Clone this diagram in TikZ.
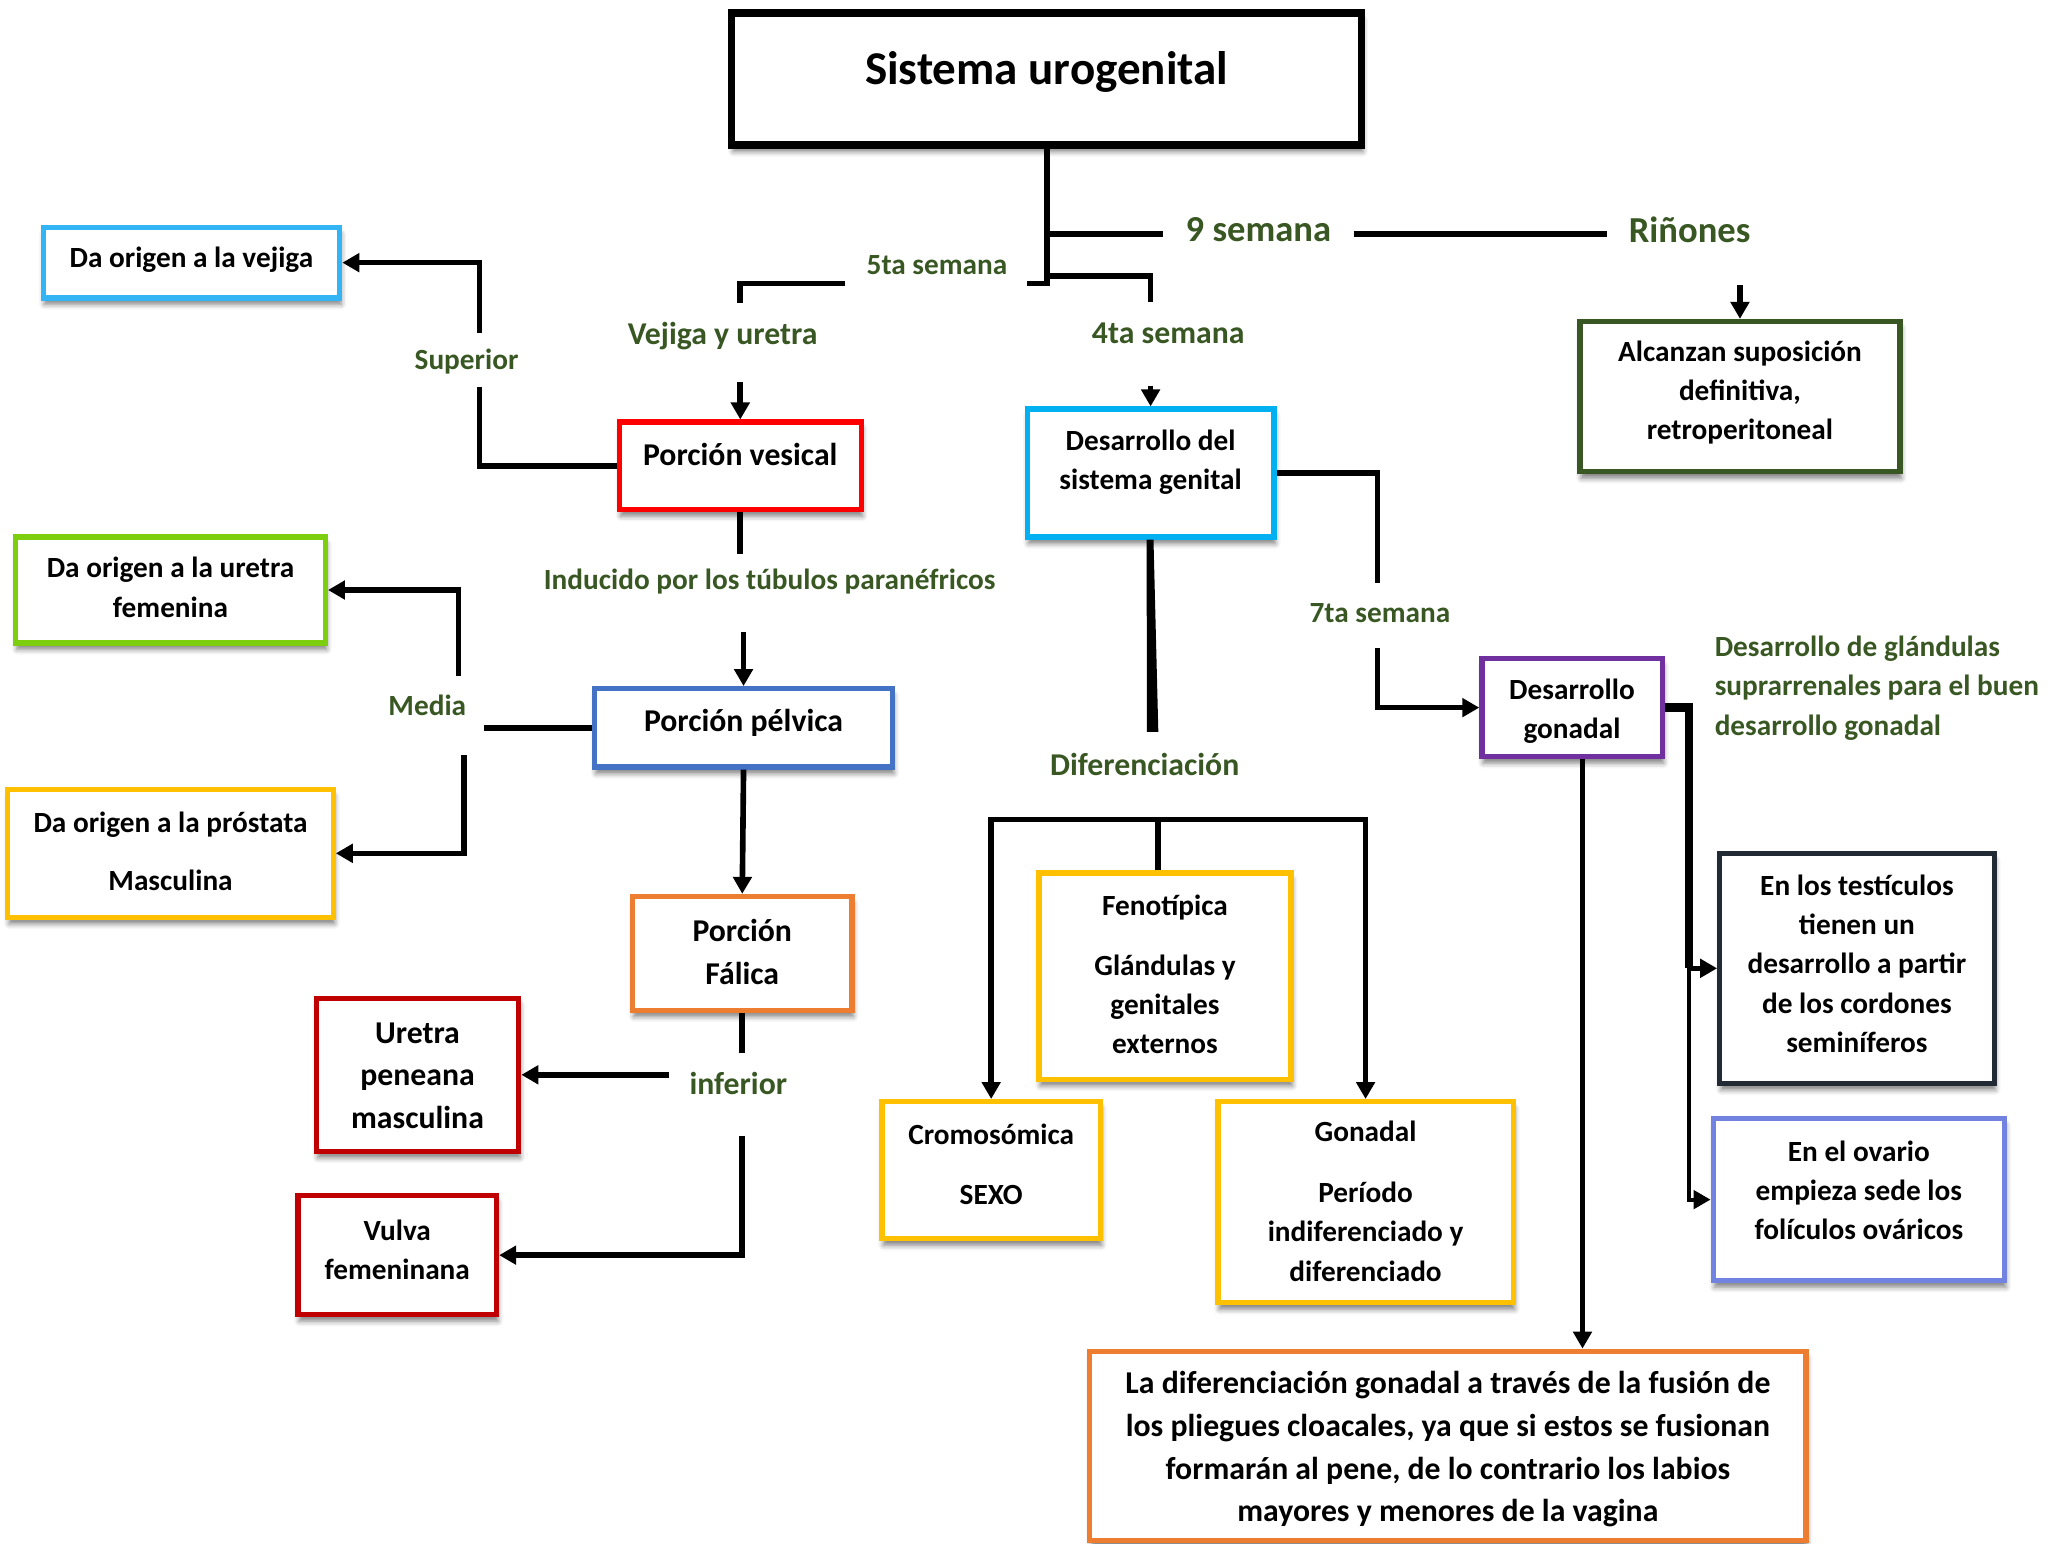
\documentclass[tikz,border=0pt]{standalone}
\usepackage{fontspec}
\setmainfont{Carlito}
\usetikzlibrary{arrows.meta,shadows.blur}

\definecolor{labelgreen}{RGB}{56,87,35}
\definecolor{skyblue}{RGB}{51,181,245}
\definecolor{cyanblue}{RGB}{0,176,240}
\definecolor{limegreen}{RGB}{126,206,16}
\definecolor{brightred}{RGB}{255,0,0}
\definecolor{steelblue}{RGB}{68,114,196}
\definecolor{amber}{RGB}{255,192,0}
\definecolor{burntorange}{RGB}{237,125,49}
\definecolor{deepred}{RGB}{192,0,0}
\definecolor{royalpurple}{RGB}{112,48,160}
\definecolor{slatenavy}{RGB}{34,42,53}
\definecolor{periwinkle}{RGB}{114,130,224}
\definecolor{olivebox}{RGB}{56,87,35}

\newcommand\fsN{\bfseries\fontsize{22.4}{30}\selectfont}
\newcommand\fsL{\bfseries\fontsize{24.3}{32.5}\selectfont}

% framed panel whose border runs along the given corners
\newcommand\panel[6]{%
  \node[panelbox, draw=#6, minimum width={(#4-#2)*1pt}, minimum height={(#5-#3)*1pt}]
    (#1) at ({(#2+#4)/2},{(#3+#5)/2}) {};}

\begin{document}
\begin{tikzpicture}[x=1pt,y=-1pt,
  panelbox/.style={line width=4pt, fill=white, inner sep=0pt,
    blur shadow={shadow xshift=1pt, shadow yshift=-5pt, shadow blur radius=4pt, shadow opacity=50}},
  conn/.style={line width=4.3pt},
  thinconn/.style={line width=3pt},
  heavy/.style={line width=6.4pt},
  tip/.style={-{Triangle[length=13pt,width=14pt]}},
  arr/.style={conn, tip},
  btext/.style={font=\fsN, align=center, inner sep=0pt},
  bltext/.style={font=\fsL, align=center, inner sep=0pt},
  glab/.style={font=\fsN, text=labelgreen, inner sep=0pt},
  gllab/.style={font=\fsL, text=labelgreen, inner sep=0pt}]

\useasboundingbox (0,0) rectangle (1568,1181);

% ---------- panels ----------
\node[panelbox, draw=black, line width=5.5pt, minimum width=482pt, minimum height=101pt]
  (title) at (801,60.5) {};
\panel{vej}{33}{174}{260}{228}{skyblue}
\panel{pv}{474}{323}{659}{390}{brightred}
\panel{dsg}{786}{313}{975}{411}{cyanblue}
\panel{alc}{1209}{246}{1454}{361}{olivebox}
\panel{uf}{12}{411}{249}{492}{limegreen}
\panel{pp}{455}{527}{683}{587}{steelblue}
\panel{pr}{6}{604}{255}{702}{amber}
\panel{pf}{484}{686}{652}{773}{burntorange}
\panel{up}{242}{764}{397}{881}{deepred}
\panel{vf}{228}{915}{380}{1006}{deepred}
\panel{dg}{1134}{504}{1272}{579}{royalpurple}
\panel{fen}{795}{668}{988}{826}{amber}
\panel{cro}{675}{843}{842}{948}{amber}
\panel{gon}{932}{843}{1158}{997}{amber}
\panel{test}{1316}{653}{1526}{829}{slatenavy}
\panel{ova}{1311}{856}{1534}{980}{periwinkle}
\panel{fin}{834}{1034}{1382}{1179}{burntorange}

% ---------- panel texts ----------
\node[font=\bfseries\fontsize{36}{40}\selectfont, inner sep=0pt] (tTitle) at (801,55) {Sistema urogenital};
\node[btext] (tVej) at (146.5,199) {Da origen a la vejiga};
\node[bltext] (tPv) at (566.5,348) {Porción vesical};
\node[btext] (tDsg) at (880.5,354) {Desarrollo del\\sistema genital};
\node[btext] (tAlc) at (1331.5,300.5) {Alcanzan suposición\\definitiva,\\retroperitoneal};
\node[btext] (tUf) at (130.5,449.5) {Da origen a la uretra\\femenina};
\node[bltext] (tPp) at (569,553) {Porción pélvica};
\node[btext] (tPr) at (130.5,651.5) {Da origen a la próstata\\[15pt]Masculina};
\node[bltext] (tPf) at (568,728.5) {Porción\\Fálica};
\node[bltext] (tUp) at (319.5,823) {Uretra\\peneana\\masculina};
\node[btext] (tVf) at (304,956.5) {Vulva\\femeninana};
\node[btext] (tDg) at (1203,544.5) {Desarrollo\\gonadal};
\node[btext] (tFen) at (891.5,745.5) {Fenotípica\\[16pt]Glándulas y\\genitales\\externos};
\node[btext] (tCro) at (758.5,891) {Cromosómica\\[16pt]SEXO};
\node[btext] (tGon) at (1045,919) {Gonadal\\[17pt]Período\\indiferenciado y\\diferenciado};
\node[btext] (tTest) at (1421,737.5) {En los testículos\\tienen un\\desarrollo a partir\\de los cordones\\seminíferos};
\node[btext] (tOva) at (1422.5,911) {En el ovario\\empieza sede los\\folículos ováricos};
\node[bltext, font=\bfseries\fontsize{24.3}{32.7}\selectfont] (tFin) at (1108,1109)
  {La diferenciación gonadal a través de la fusión de\\los pliegues cloacales, ya que si estos se fusionan\\formarán al pene, de lo contrario los labios\\mayores y menores de la vagina};

% ---------- green labels ----------
\node[glab, font=\bfseries\fontsize{28}{32}\selectfont] (n9) at (963,176) {9 semana};
\node[glab, font=\bfseries\fontsize{28}{32}\selectfont] (nRin) at (1293,176) {Riñones};
\node[glab] (n5ta) at (717,203) {5ta semana};
\node[gllab] (nVej) at (553,257) {Vejiga y uretra};
\node[gllab] (n4ta) at (894,255) {4ta semana};
\node[glab] (nSup) at (357,277) {Superior};
\node[glab] (nInd) at (589,445) {Inducido por los túbulos paranéfricos};
\node[glab] (nMedia) at (327,540) {Media};
\node[glab] (n7ta) at (1056,469) {7ta semana};
\node[gllab] (nDif) at (876,585) {Diferenciación};
\node[gllab] (nInf) at (565,829) {inferior};
\node[glab, anchor=west, align=left] (nSupra) at (1312,526.5)
  {Desarrollo de glándulas\\suprarrenales para el buen\\desarrollo gonadal};

% ---------- connectors ----------
% trunk below the title and its branches
\coordinate (trunkEnd) at (801,219);
\draw[conn] (title.south) -- (trunkEnd);
\draw[conn] (801,179) -- (890,179);
\draw[conn] (1036,179) -- (1230,179);
\draw[arr] (1331.5,218) -- (alc.north);
\draw[conn] (801,217) -- (786,217);
\draw[conn] (647,217) -| (566.5,232);
\draw[conn] (801,211) -| (880.5,231);
\draw[arr] (566.5,292) -- (pv.north);
\draw[arr] (880.5,295) -- (dsg.north);

% upper portion of the sinus
\draw[conn] (pv.west) -| (367,296);
\draw[arr] (367,255) |- (vej.east);
\draw[conn] (pv.south) -- ++(0,32);
\draw[arr] (569,484) -- (pp.north);

% middle portion
\draw[conn] (pp.west) -- ++(-83,0);
\draw[arr] (351,517) |- (uf.east);
\draw[arr] (355,578) |- (pr.east);
\draw[arr] (pp.south) -- (pf.north);

% lower portion
\draw[conn] (pf.south) -- ++(0,31);
\draw[arr] (512,822.5) -- (up.east);
\draw[arr] (568,869) |- (vf.east);

% genital system
\draw[conn] (dsg.east) -| (1054,446);
\draw[arr] (1054,496) |- (dg.west);
% tapering stroke down towards "Diferenciación"
\fill (dsg.south) ++(-3,0) -- ++(5.2,0) -- (886.4,560) -- (877.6,560) -- cycle;
\draw[conn] (886,627) -- (886,0 |- fen.north);
\draw[arr] (886,627) -| (cro.north);
\draw[arr] (886,627) -| (gon.north);

% gonadal development
\draw[arr] (1211,0 |- dg.south) -- (1211,0 |- fin.north);
\draw[heavy] (dg.east) -| (1292.5,741);
\draw[arr] (1292.5,741) -- (test.west);
\draw[thinconn, tip] (1292.5,741) |- (ova.west);

\end{tikzpicture}
\end{document}
